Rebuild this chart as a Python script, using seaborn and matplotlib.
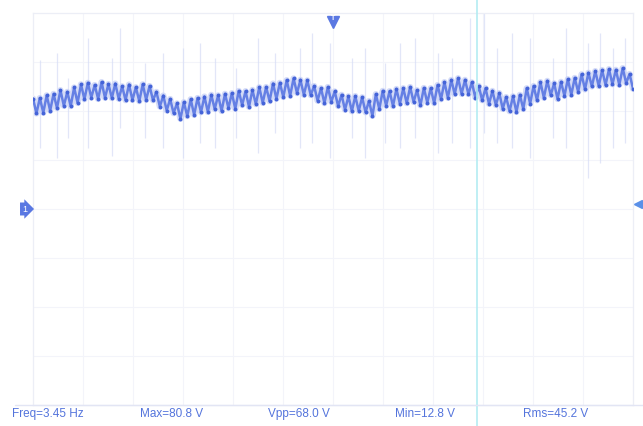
import numpy as np
import pandas as pd
import matplotlib
matplotlib.use("Agg")
import matplotlib.pyplot as plt
import seaborn as sns

# Ripple peaks and troughs of channel 1 (volts), one pair per ripple cycle
peaks_v = [
    45.1, 45.3, 46.4, 47.0, 48.5, 47.8, 49.6, 50.9, 51.5, 50.6,
    51.8, 51.0, 51.2, 50.1, 50.8, 49.7, 50.9, 50.2, 47.8, 46.3,
    44.9, 43.1, 43.6, 44.8, 45.3, 45.9, 46.6, 46.4, 47.0, 47.3,
    48.2, 48.1, 48.6, 49.7, 49.8, 51.2, 51.5, 52.6, 53.3, 52.7,
    52.5, 50.2, 49.3, 49.8, 48.0, 46.6, 46.0, 46.1, 45.6, 44.1,
    46.9, 48.2, 48.1, 49.0, 49.3, 49.8, 48.5, 49.4, 49.3, 50.6,
    51.8, 52.7, 53.4, 52.7, 51.7, 50.2, 49.3, 48.2, 47.3, 45.7,
    46.0, 46.6, 49.3, 50.2, 51.8, 52.3, 51.3, 51.9, 53.0, 53.5,
    55.0, 55.6, 56.3, 56.7, 57.1, 56.8, 57.5, 55.1,
]
troughs_v = [
    39.0, 39.3, 40.1, 41.2, 42.1, 42.0, 43.3, 44.8, 45.5, 44.9,
    45.4, 45.3, 45.0, 44.4, 44.5, 44.0, 44.6, 44.4, 41.8, 40.2,
    39.1, 36.8, 37.9, 38.4, 39.5, 39.6, 40.8, 40.0, 41.2, 40.9,
    42.4, 41.7, 42.8, 43.3, 44.0, 45.0, 45.7, 46.2, 47.3, 46.6,
    46.5, 44.2, 43.2, 43.7, 42.0, 40.5, 39.9, 40.0, 39.5, 38.0,
    40.8, 42.2, 42.0, 43.0, 43.2, 43.7, 42.3, 43.4, 43.2, 44.8,
    45.4, 46.9, 47.0, 46.9, 45.5, 44.4, 42.9, 42.4, 40.9, 39.9,
    39.6, 40.8, 43.0, 44.4, 45.4, 46.5, 44.9, 46.2, 46.6, 47.8,
    48.8, 50.0, 50.2, 50.6, 50.9, 50.7, 51.4, 49.1,
]

# Short noise spikes: time (div), upper and lower excursion (V)
spike_t = [0.14, 0.48, 0.70, 1.10, 1.58, 1.74, 2.24, 2.60, 3.00, 3.34,
           3.64, 4.06, 4.50, 4.84, 5.34, 5.58, 5.94, 6.38, 6.64, 7.04,
           7.34, 7.64, 8.10, 8.38, 8.74, 9.02, 9.28, 9.58, 9.94, 10.40,
           10.66, 11.10, 11.34, 11.60, 11.84]
spike_hi = [60.8, 63.7, 53.5, 69.8, 61.6, 73.9, 59.6, 63.7, 65.7, 67.7,
            61.6, 57.5, 69.8, 63.7, 65.7, 71.8, 67.7, 61.6, 65.7, 59.6,
            67.7, 69.8, 63.7, 61.6, 77.9, 80.8, 65.7, 71.8, 69.8, 61.6,
            73.9, 67.7, 71.8, 65.7, 69.8]
spike_lo = [24.9, 20.8, 29.0, 24.9, 21.6, 33.0, 29.0, 24.9, 20.8, 26.9,
            24.9, 29.0, 22.8, 31.0, 24.9, 26.9, 20.8, 29.0, 20.8, 26.9,
            24.9, 29.0, 22.8, 26.9, 24.9, 31.0, 26.9, 24.9, 20.8, 29.0,
            24.9, 12.8, 18.8, 24.9, 26.9]

stats = ["Freq=3.45 Hz", "Max=80.8 V", "Vpp=68.0 V", "Min=12.8 V", "Rms=45.2 V"]

n_div_x, n_div_y, volts_per_div = 12, 8, 20
trigger_t = 6.0
cursor_t = 8.88
trigger_level_v = 2.0

assert len(peaks_v) == len(troughs_v)
n = len(peaks_v) * 2
volts = np.column_stack([peaks_v, troughs_v]).ravel()
t = np.linspace(0.0, n_div_x, n)
df = pd.DataFrame({"t": t, "v": volts})

sns.set_style("white")
plt.rcParams["font.family"] = ["Liberation Sans", "DejaVu Sans"]

fig = plt.figure(figsize=(6.43, 4.26), dpi=100)
ax = fig.add_axes([33 / 643, 21 / 426, 600 / 643, 392 / 426])
ymax = volts_per_div * n_div_y / 2
ax.set_xlim(0, n_div_x)
ax.set_ylim(-ymax, ymax)

# graticule (very faint)
for gx in range(1, n_div_x):
    ax.axvline(gx, color="#f3f4fa", lw=0.8, zorder=0)
for gy in range(1, n_div_y):
    ax.axhline(-ymax + gy * volts_per_div, color="#f3f4fa", lw=0.8, zorder=0)
for s in ax.spines.values():
    s.set_color("#eceef6")
    s.set_linewidth(0.9)
ax.set_xticks([])
ax.set_yticks([])

# noise spikes
ax.vlines(spike_t, spike_lo, spike_hi, color="#d6dcf6", lw=0.9, alpha=0.7, zorder=1)

# channel trace: soft halo, then the line with sample dots
sns.lineplot(data=df, x="t", y="v", ax=ax, color="#c3cdf5", lw=4.5,
             alpha=0.7, zorder=2)
sns.lineplot(data=df, x="t", y="v", ax=ax, color="#6580e4", lw=1.8,
             marker="o", markersize=2.8, markeredgewidth=0,
             markerfacecolor="#4463d8", zorder=3)
ax.set_xlabel("")
ax.set_ylabel("")

# cursor
ax.plot([cursor_t, cursor_t], [-ymax * 1.4, ymax * 1.4], color="#b4ecf2",
        lw=1.2, clip_on=False, zorder=4)

# channel ground marker
ax.text(-0.12, 0, "1", color="white", fontsize=6.5, ha="right", va="center",
        clip_on=False, zorder=5,
        bbox=dict(boxstyle="rarrow,pad=0.22", fc="#5a78e2", ec="none"))
# trigger position marker
ax.plot([trigger_t], [ymax - 3.5], marker="v", markersize=8, color="#5a78e2",
        clip_on=False, zorder=5)
ax.text(trigger_t, ymax - 2.2, "T", color="white", fontsize=5, ha="center",
        va="center", clip_on=False, zorder=6, fontweight="bold")
# trigger level marker
ax.plot([n_div_x + 0.1], [trigger_level_v], marker="<", markersize=6,
        color="#5a90e8", clip_on=False, zorder=5)

# measurement bar
fig.add_artist(plt.Line2D([15 / 643, 1], [21 / 426, 21 / 426],
                          color="#e2e5f4", lw=1.0))
xs = [12, 140, 268, 395, 523]
for x, s in zip(xs, stats):
    fig.text(x / 643, 1 - 414 / 426, s, color="#5474dc", fontsize=8.5,
             ha="left", va="center")

fig.savefig("out.png", dpi=100, facecolor="white")
